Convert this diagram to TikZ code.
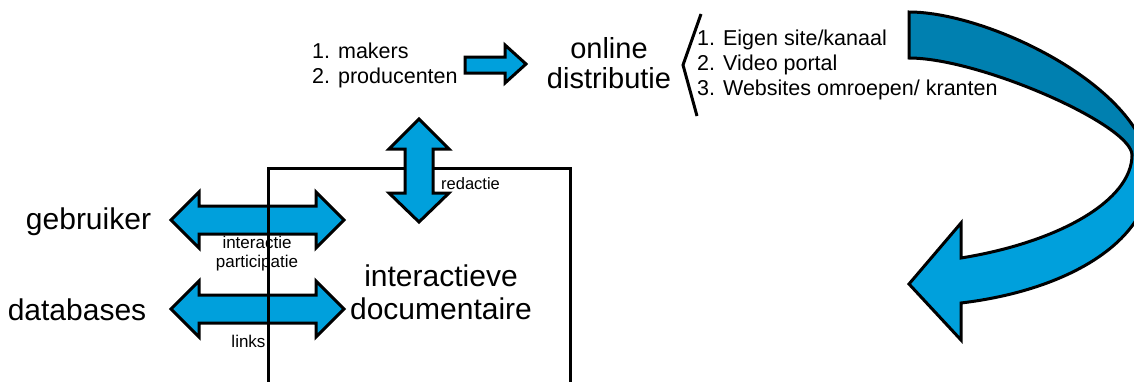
\documentclass[tikz,border=0pt]{standalone}
\usepackage{fontspec}
\setmainfont{Liberation Sans}
\definecolor{lblue}{RGB}{0,160,220}
\definecolor{dblue}{RGB}{0,128,176}
\tikzset{
  blockarrow/.style={draw=black, fill=lblue, line width=3pt, line join=miter},
  frameline/.style={draw=black, line width=3pt},
  bigtxt/.style={inner sep=0pt, align=center, font=\fontsize{30}{33}\selectfont},
  midtxt/.style={inner sep=0pt, align=left, font=\fontsize{21.5}{25}\selectfont},
  smalltxt/.style={inner sep=0pt, align=center, font=\fontsize{17}{19}\selectfont},
}
\begin{document}
\begin{tikzpicture}[x=1pt,y=-1pt]
\useasboundingbox (0,0) rectangle (1134,381);
\clip (0,0) rectangle (1134,381);

% top text block
\node[midtxt, anchor=west] (makers) at (312,65) {1. makers\\2. producenten};
\draw[blockarrow] (465,57) -- (505,57) -- (505,45) -- (526,64) -- (505,83) -- (505,73) -- (465,73) -- cycle;
\node[inner sep=0pt, align=center, font=\fontsize{29}{30}\selectfont] (online) at (609,63) {online\\distributie};
\draw[line width=3pt] (701,14) -- (683,65) -- (697,116);
\node[midtxt, anchor=west] (list) at (697,65) {1. Eigen site/kanaal\\2. Video portal\\3. Websites omroepen/ kranten};

% big curved arrow
\fill[lblue] (909,12) .. controls (990,12) and (1150,90) .. (1150,175)
  .. controls (1150,240) and (1070,290) .. (961,303)
  -- (961,340) -- (909,284) -- (961,223) -- (961,258)
  .. controls (1060,242) and (1132,200) .. (1132,155)
  .. controls (1132,125) and (980,58) .. (909,58) -- cycle;
\fill[dblue] (909,12) .. controls (990,12) and (1150,90) .. (1150,175)
  -- (1132,155)
  .. controls (1132,125) and (980,58) .. (909,58) -- cycle;
\draw[line width=3pt, line join=miter] (909,12) .. controls (990,12) and (1150,90) .. (1150,175)
  .. controls (1150,240) and (1070,290) .. (961,303)
  -- (961,340) -- (909,284) -- (961,223) -- (961,258)
  .. controls (1060,242) and (1132,200) .. (1132,155)
  .. controls (1132,125) and (980,58) .. (909,58) -- cycle;

% horizontal double arrows
\draw[blockarrow] (171,220) -- (199,192) -- (199,206) -- (316,206) -- (316,192) -- (344,220)
  -- (316,248) -- (316,234) -- (199,234) -- (199,248) -- cycle;
\draw[blockarrow] (171,309) -- (199,281) -- (199,295) -- (316,295) -- (316,281) -- (344,309)
  -- (316,337) -- (316,323) -- (199,323) -- (199,337) -- cycle;

\node[bigtxt] (gebruiker) at (88.5,222) {gebruiker};
\node[bigtxt] (databases) at (77,310) {databases};
\node[smalltxt] (interactie) at (257,254) {interactie\\participatie};
\node[smalltxt] (links) at (248.5,341) {links};
\node[bigtxt] (doc) at (441,292) {interactieve\\documentaire};

% frame
\draw[frameline, line join=miter] (268,400) -- (268,168) -- (570,168) -- (570,400);

% vertical double arrow
\draw[blockarrow] (419,119) -- (449,149) -- (433,149) -- (433,193) -- (449,193) -- (419,222)
  -- (389,193) -- (405,193) -- (405,149) -- (389,149) -- cycle;
\node[inner sep=0pt, anchor=west, font=\fontsize{16.5}{19}\selectfont] (redactie) at (441,184) {redactie};
\end{tikzpicture}
\end{document}
